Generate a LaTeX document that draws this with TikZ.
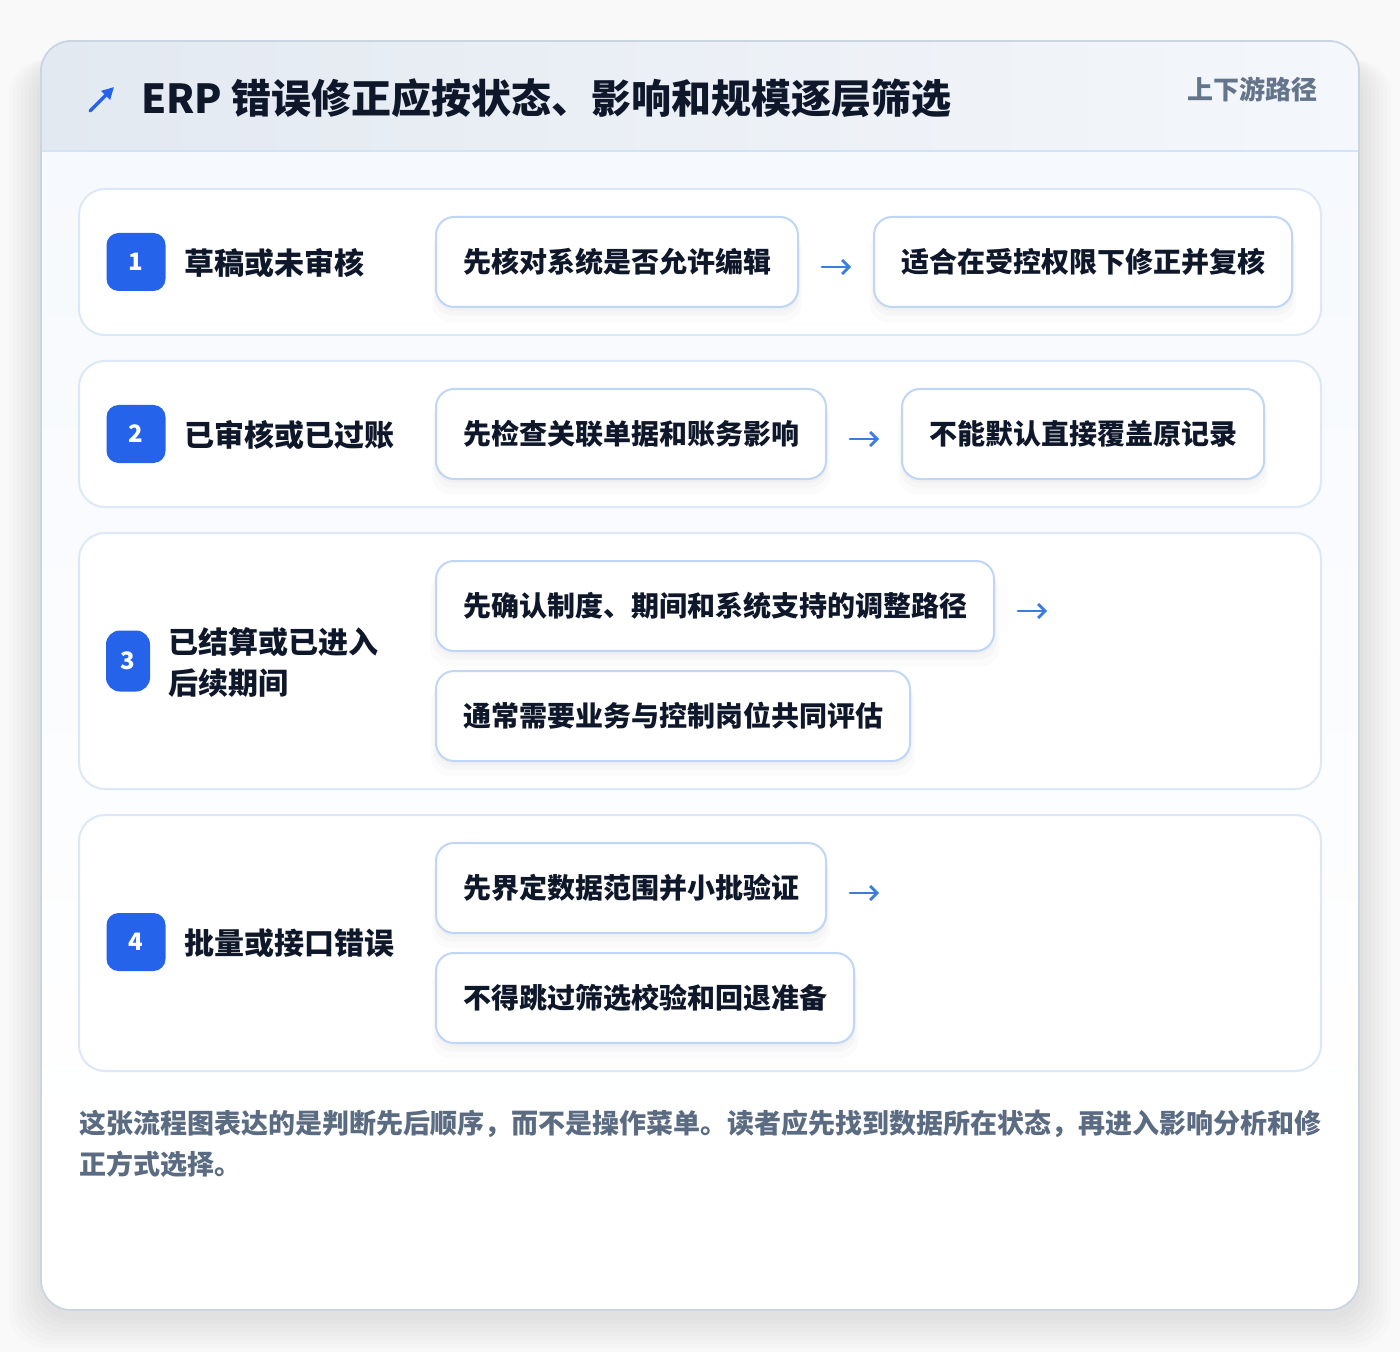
\documentclass[tikz,border=0pt]{standalone}
\usepackage{fontspec}
\setmainfont{Noto Sans CJK SC}
\usetikzlibrary{arrows.meta,shadows}
\definecolor{ink}{HTML}{0F172A}
\definecolor{slate}{HTML}{64748B}
\definecolor{notegray}{HTML}{5B6B82}
\definecolor{badge}{HTML}{2563EB}
\definecolor{arrowblue}{HTML}{3B7DDD}
\definecolor{rowline}{HTML}{DCE8F8}
\definecolor{boxline}{HTML}{BFD6F6}
\definecolor{cardline}{HTML}{CBD5E1}
\definecolor{headL}{HTML}{E3E9F1}
\definecolor{headR}{HTML}{F4F7FB}
\definecolor{bodytop}{HTML}{F6F9FD}
\begin{document}
\begin{tikzpicture}[x=0.5pt,y=-0.5pt,font=\bfseries, line join=round, line cap=round,
  row/.style={draw=rowline,line width=1pt,fill=white,rounded corners=13pt},
  stepbox/.style={draw=boxline,line width=1pt,fill=white,rounded corners=9pt,minimum height=45pt,inner xsep=13.5pt,anchor=west,text=ink,font=\fontsize{14pt}{17pt}\selectfont\bfseries,
    drop shadow={opacity=0.02,shadow xshift=0pt,shadow yshift=-2pt,fill=black},
    drop shadow={opacity=0.02,shadow xshift=0pt,shadow yshift=-4pt,shadow scale=1.01,fill=black},
    drop shadow={opacity=0.015,shadow xshift=0pt,shadow yshift=-7pt,shadow scale=1.02,fill=black}},
  num/.style={fill=badge,rounded corners=6pt,text=white,minimum width=29.5pt,minimum height=29pt,inner sep=0pt,font=\fontsize{12pt}{14pt}\selectfont\bfseries},
  state/.style={anchor=west,inner sep=0pt,text=ink,align=left,font=\fontsize{15pt}{20.5pt}\selectfont\bfseries},
  go/.style={arrowblue,line width=1.4pt,-{Straight Barb[length=3.5pt,width=7pt]}}]
% page and soft shadow
\fill[white!96!slate](0,0)rectangle(1400,1352);
\foreach \i in {1,...,8}
  \fill[black,opacity=0.012,rounded corners=18pt]({41-\i*4},{60})rectangle({1359+\i*4},{1316+\i*4});
% card
\fill[white,rounded corners=15pt](41,41)rectangle(1359,1310);
\begin{scope}
\clip[rounded corners=15pt](41,41)rectangle(1359,1310);
\shade[left color=headL,right color=headR](41,41)rectangle(1359,151);
\shade[top color=bodytop,bottom color=white](41,151)rectangle(1359,1150);
\end{scope}
\draw[boxline!70,line width=0.8pt](41,151)--(1359,151);
\draw[cardline,line width=0.9pt,rounded corners=15pt](41,41)rectangle(1359,1310);
% header
\coordinate (icon-a) at (90,111);
\coordinate (icon-b) at (114,87);
\draw[badge,line width=1.7pt,-{Triangle[length=6pt,width=6pt]}](icon-a)--(icon-b);
\node[anchor=west,inner sep=0pt,text=ink,font=\fontsize{20pt}{23pt}\selectfont\bfseries] (title) at (141,98) {ERP 错误修正应按状态、影响和规模逐层筛选};
\node[anchor=east,inner sep=0pt,text=slate,font=\fontsize{13pt}{15pt}\selectfont\bfseries] (tag) at (1318,89) {上下游路径};
% row 1
\draw[row](79,189)rectangle(1321,335);
\node[num] (n1) at (136,262) {1};
\node[state] (s1) at (184,263) {草稿或未审核};
\node[stepbox] (a1) at (435,262) {先核对系统是否允许编辑};
\node[stepbox] (b1) at (873,262) {适合在受控权限下修正并复核};
\draw[go,shorten <=11.5pt,shorten >=11pt]([yshift=-2.5pt]a1.east)--([yshift=-2.5pt]b1.west);
% row 2
\draw[row](79,361)rectangle(1321,507);
\node[num] (n2) at (136,434) {2};
\node[state] (s2) at (184,435) {已审核或已过账};
\node[stepbox] (a2) at (435,434) {先检查关联单据和账务影响};
\node[stepbox] (b2) at (901,434) {不能默认直接覆盖原记录};
\draw[go,shorten <=11.5pt,shorten >=11pt]([yshift=-2.5pt]a2.east)--([yshift=-2.5pt]b2.west);
% row 3
\draw[row](79,533)rectangle(1321,789);
\node[num,minimum width=22pt,minimum height=30.5pt,rounded corners=7pt] (n3) at (128,661) {3};
\node[state] (s3) at (168,662) {已结算或已进入\\后续期间};
\node[stepbox] (a3) at (435,606) {先确认制度、期间和系统支持的调整路径};
\node[stepbox] (c3) at (435,716) {通常需要业务与控制岗位共同评估};
\coordinate (e3) at (1047,611);
\draw[go,shorten <=11.5pt]([yshift=-2.5pt]a3.east)--(e3);
% row 4
\draw[row](79,815)rectangle(1321,1071);
\node[num] (n4) at (136,942) {4};
\node[state] (s4) at (184,943) {批量或接口错误};
\node[stepbox] (a4) at (435,888) {先界定数据范围并小批验证};
\node[stepbox] (c4) at (435,998) {不得跳过筛选校验和回退准备};
\coordinate (e4) at (879,893);
\draw[go,shorten <=11.5pt]([yshift=-2.5pt]a4.east)--(e4);
% note
\node[anchor=west,inner sep=0pt,text=notegray,align=left,font=\fontsize{13.5pt}{20.5pt}\selectfont\bfseries] (note) at (79,1143.5) {这张流程图表达的是判断先后顺序，而不是操作菜单。读者应先找到数据所在状态，再进入影响分析和修\\正方式选择。};
\end{tikzpicture}
\end{document}
